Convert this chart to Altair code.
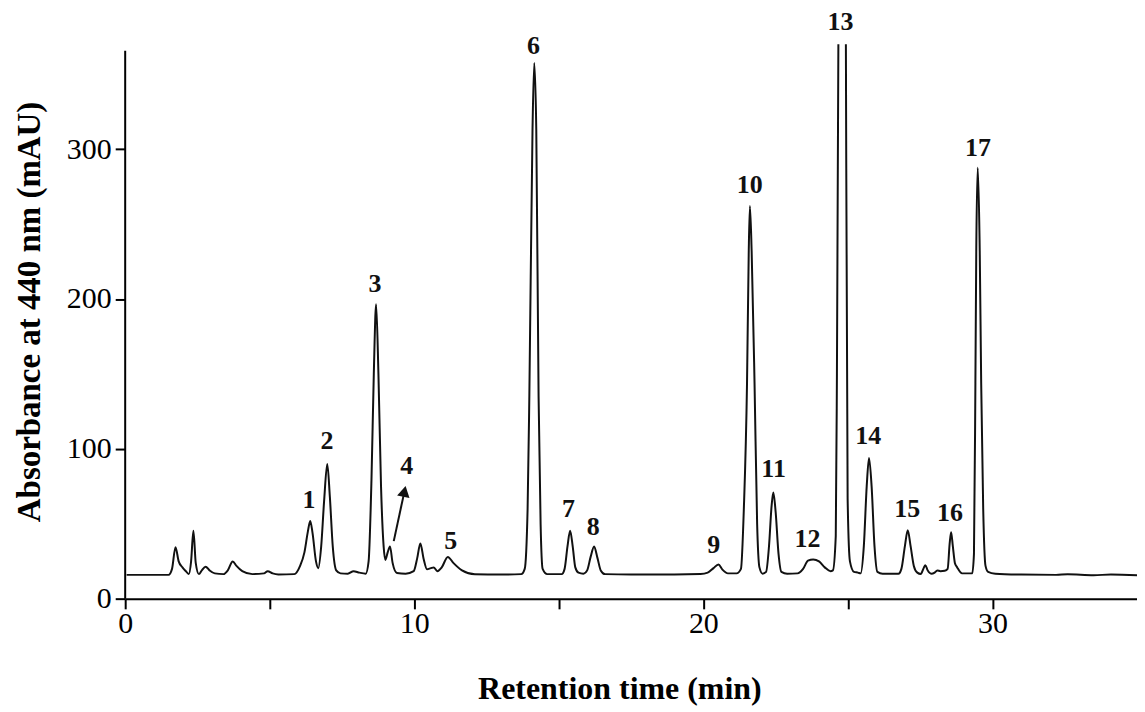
import altair as alt
import pandas as pd

# Chromatogram trace: retention time (min), absorbance (mAU)
time_min = [
    0.05, 1.50, 1.62, 1.74, 1.85, 1.98, 2.12, 2.20, 2.28, 2.36, 2.44, 2.55, 2.65, 2.78, 2.92,
    3.10, 3.40, 3.55, 3.72, 3.85, 4.05, 4.40, 4.80, 4.93, 5.10, 5.30, 5.85, 6.05, 6.20, 6.32,
    6.40, 6.48, 6.60, 6.68, 6.78, 6.88, 6.99, 7.08, 7.18, 7.30, 7.45, 7.70, 7.90, 8.10, 8.32,
    8.42, 8.52, 8.60, 8.68, 8.76, 8.85, 8.94, 9.00, 9.08, 9.16, 9.25, 9.40, 9.70, 9.98, 10.10,
    10.21, 10.32, 10.44, 10.57, 10.67, 10.80, 10.95, 11.16, 11.35, 11.65, 12.10, 13.00, 13.70, 13.82, 13.92,
    13.98, 14.09, 14.15, 14.22, 14.30, 14.37, 14.44, 14.60, 15.10, 15.20, 15.30, 15.39, 15.48, 15.57, 15.68,
    15.85, 15.98, 16.10, 16.22, 16.34, 16.45, 16.60, 17.50, 19.00, 19.90, 20.15, 20.35, 20.52, 20.66, 20.85,
    21.15, 21.30, 21.40, 21.51, 21.57, 21.61, 21.67, 21.77, 21.86, 21.94, 22.05, 22.17, 22.27, 22.36, 22.42,
    22.50, 22.60, 22.70, 22.90, 23.26, 23.45, 23.62, 23.80, 24.00, 24.20, 24.40, 24.48, 24.58, 24.62, 24.67,
    24.80, 24.93, 24.99, 25.07, 25.21, 25.35, 25.44, 25.55, 25.65, 25.73, 25.82, 25.92, 26.02, 26.20, 26.75,
    26.85, 26.97, 27.07, 27.17, 27.28, 27.40, 27.52, 27.62, 27.68, 27.76, 27.88, 28.00, 28.09, 28.20, 28.35,
    28.45, 28.52, 28.57, 28.63, 28.70, 28.78, 28.95, 29.30, 29.36, 29.41, 29.44, 29.49, 29.56, 29.61, 29.68,
    29.76, 29.85, 30.10, 31.00, 32.20, 32.60, 33.50, 34.10, 35.00,
]
absorbance = [
    16.0, 16.0, 20.0, 34.5, 25.0, 21.0, 18.0, 16.5, 25.0, 45.5, 24.0, 16.5, 19.0, 21.5, 19.0,
    17.0, 16.5, 19.0, 25.0, 22.0, 18.5, 16.5, 17.0, 18.5, 17.0, 16.3, 16.5, 22.0, 31.0, 45.0,
    52.0, 44.0, 25.0, 20.5, 35.0, 65.0, 90.0, 68.0, 35.0, 19.0, 17.0, 16.8, 18.5, 17.5, 16.8,
    25.0, 80.0, 150.0, 196.5, 150.0, 75.0, 35.0, 26.0, 31.0, 35.0, 24.0, 17.3, 16.8, 18.5, 27.0,
    37.0, 27.0, 19.8, 20.5, 21.0, 18.5, 21.0, 28.0, 24.0, 19.0, 16.4, 16.2, 16.5, 20.0, 60.0,
    135.0, 313.0, 357.5, 313.0, 135.0, 50.0, 20.0, 16.5, 16.5, 20.0, 35.0, 45.5, 35.0, 21.0, 17.5,
    16.8, 19.0, 28.0, 35.0, 27.0, 19.0, 16.5, 16.3, 16.3, 16.6, 17.5, 20.5, 23.0, 19.5, 17.0,
    17.0, 20.0, 60.0, 144.0, 232.0, 262.0, 232.0, 144.0, 50.0, 21.0, 16.8, 18.0, 35.0, 62.0, 71.0,
    58.0, 30.0, 18.0, 16.8, 17.0, 20.0, 25.5, 26.3, 25.0, 21.0, 18.5, 19.0, 42.0, 150.0, 370.0,
    1500.0, 370.0, 67.0, 25.0, 18.0, 17.5, 17.0, 35.0, 75.0, 94.0, 75.0, 35.0, 18.0, 16.8, 16.8,
    20.0, 35.0, 45.8, 35.0, 22.0, 17.5, 16.6, 20.5, 22.5, 19.0, 16.8, 17.5, 19.0, 18.5, 18.8,
    20.0, 37.0, 44.5, 35.0, 24.0, 21.0, 17.0, 17.0, 30.0, 144.0, 232.0, 287.5, 232.0, 144.0, 60.0,
    22.0, 18.0, 16.8, 16.2, 16.0, 16.4, 15.8, 16.2, 15.8,
]

# Peak numbers and where their labels sit (data coordinates)
peak_names = ["1", "2", "3", "4", "5", "6", "7", "8", "9", "10", "11", "12", "13", "14", "15", "16", "17"]
label_time = [6.36, 6.98, 8.64, 9.74, 11.26, 14.12, 15.33, 16.19, 20.36, 21.60, 22.43, 23.60, 24.74, 25.70, 27.05, 28.53, 29.50]
label_abs = [66.2, 105.5, 209.9, 88.8, 38.3, 368.9, 60.2, 47.6, 35.6, 275.8, 86.8, 39.6, 385.0, 108.8, 60.2, 57.5, 300.4]

# Arrow pointing at peak 4 (start, head)
arrow_time = [9.29, 9.66]
arrow_abs = [38.5, 71.7]

x_ticks = [0, 5, 10, 15, 20, 25, 30, 35]
y_ticks = [0, 100, 200, 300]
y_axis_top = 365.6

trace = pd.DataFrame({"t": time_min, "a": absorbance})
labels = pd.DataFrame({"t": label_time, "a": label_abs, "name": peak_names})
arrow = pd.DataFrame({"t": arrow_time, "a": arrow_abs})
arrow_head = arrow.iloc[[1]]
yline = pd.DataFrame({"t": [0, 0], "a": [0, y_axis_top]})

xscale = alt.Scale(domain=[0, 35], nice=False, zero=False)
yscale = alt.Scale(domain=[0, 370], nice=False, zero=False)

xaxis = alt.Axis(
    values=x_ticks,
    labelExpr="datum.value % 10 == 0 && datum.value < 35 ? datum.label : ''",
    tickSize=10, tickWidth=2, tickColor="black",
    domainWidth=2, domainColor="black",
    labelFont="Liberation Serif", labelFontSize=30, labelColor="black",
    labelPadding=0, labelFlush=False, labelOverlap=False,
    title="Retention time (min)", titleFont="Liberation Serif", titleFontSize=32,
    titleFontWeight="bold", titleColor="black", titleX=495.5, titleY=90,
    titleBaseline="middle", titleAlign="center", grid=False,
)
yaxis = alt.Axis(
    values=y_ticks,
    tickSize=10, tickWidth=2, tickColor="black", domain=False,
    labelFont="Liberation Serif", labelFontSize=30, labelColor="black",
    labelPadding=4, labelFlush=False, labelOverlap=False,
    title="Absorbance at 440 nm (mAU)", titleFont="Liberation Serif", titleFontSize=33,
    titleFontWeight="bold", titleColor="black", titleX=-95.5, titleY=268,
    titleBaseline="middle", titleAlign="center", titleAngle=-90, grid=False,
)

line = alt.Chart(trace).mark_line(
    color="#111111", strokeWidth=2, clip=True, interpolate="monotone"
).encode(
    x=alt.X("t:Q", scale=xscale, axis=xaxis),
    y=alt.Y("a:Q", scale=yscale, axis=yaxis),
    order="t:Q",
)

axis_line = alt.Chart(yline).mark_line(color="black", strokeWidth=2).encode(
    x=alt.X("t:Q", scale=xscale), y=alt.Y("a:Q", scale=yscale)
)

text = alt.Chart(labels).mark_text(
    font="Liberation Serif", fontSize=26, fontWeight="bold", color="#111111",
    align="center", baseline="middle",
).encode(x=alt.X("t:Q", scale=xscale), y=alt.Y("a:Q", scale=yscale), text="name:N")

shaft = alt.Chart(arrow).mark_line(color="#111111", strokeWidth=2).encode(
    x=alt.X("t:Q", scale=xscale), y=alt.Y("a:Q", scale=yscale)
)
head = alt.Chart(arrow_head).mark_point(
    shape="triangle-up", filled=True, color="#111111", size=160, angle=12, opacity=1
).encode(x=alt.X("t:Q", scale=xscale), y=alt.Y("a:Q", scale=yscale))

chart = alt.layer(line, axis_line, text, shaft, head).properties(
    width=1014.5,
    height=556.2,
    autosize=alt.AutoSizeParams(type="none"),
    padding={"left": 117.5, "top": 35.3, "right": 0, "bottom": 112},
    background="white",
).configure_view(stroke=None)

chart.save("out.html", embed_options={"renderer": "svg", "actions": False})
